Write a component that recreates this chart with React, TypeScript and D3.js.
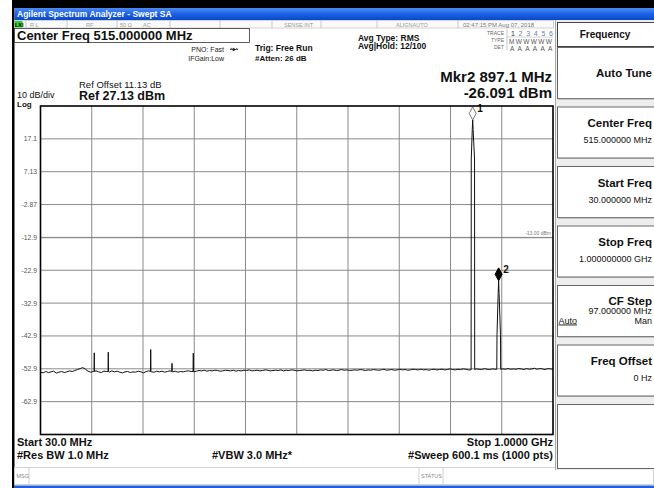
import * as d3 from 'd3';

// ---- data ----
const startFreq = 30; // MHz
const stopFreq = 1000;
const refLevel = 27.13; // dBm
const dbPerDiv = 10;
const yTickLabels = ['17.1', '7.13', '-2.87', '-12.9', '-22.9', '-32.9', '-42.9', '-52.9', '-62.9'];

// noise floor, one value every 5 MHz from 30 MHz to 1 GHz
const noiseStep = 5;
const noiseLevels = [
  -53.9, -54.1, -53.7, -54.0, -53.8, -53.6, -54.2, -53.9, -53.7, -54.0, -53.8, -53.5, -53.7, -53.4, -53.1,
  -52.8, -52.5, -53.0, -53.6, -53.9, -53.7, -53.5, -53.8, -54.0, -53.6, -53.7, -53.9, -53.5, -53.8, -53.6,
  -53.9, -54.1, -53.8, -53.7, -54.0, -53.8, -53.9, -53.6, -53.8, -54.1, -53.7, -53.5, -53.8, -53.9, -53.6,
  -53.8, -53.6, -53.9, -53.7, -53.5, -53.8, -53.6, -53.9, -53.7, -53.8, -53.6, -53.5, -53.7, -53.8, -53.6,
  -53.4, -53.5, -53.3, -53.6, -53.4, -53.5, -53.3, -53.4, -53.6, -53.5, -53.3, -53.4, -53.5, -53.3, -53.6,
  -53.4, -53.5, -53.3, -53.4, -53.2, -53.5, -53.4, -53.3, -53.5, -53.4, -53.2, -53.3, -53.5, -53.4, -53.3,
  -53.4, -53.2, -53.5, -53.3, -53.4, -53.2, -53.3, -53.5, -53.4, -53.3, -53.2, -53.4, -53.3, -53.5, -53.3,
  -53.4, -53.2, -53.3, -53.1, -53.4, -53.3, -53.2, -53.4, -53.3, -53.1, -53.3, -53.2, -53.4, -53.3, -53.2,
  -53.3, -53.1, -53.2, -53.4, -53.2, -53.3, -53.1, -53.2, -53.3, -53.2, -53.0, -53.3, -53.2, -53.1, -53.3,
  -53.2, -53.0, -53.2, -53.1, -53.3, -53.2, -53.0, -53.1, -53.2, -53.0, -53.2, -53.1, -53.3, -53.1, -53.0,
  -53.2, -53.1, -53.0, -53.2, -53.1, -52.9, -53.1, -53.2, -53.0, -53.1, -52.9, -53.0, -53.2, -53.0, -53.1,
  -52.9, -53.0, -53.1, -52.8, -53.0, -53.1, -52.9, -53.0, -52.8, -53.1, -52.9, -53.0, -52.8, -53.0, -52.9,
  -53.0, -52.8, -52.9, -53.1, -52.8, -53.0, -52.9, -52.7, -53.0, -52.8, -52.9, -53.1, -52.8, -52.9, -53.0,
];

// small spurs on the left
const spurFreqs = [131.8, 158.3, 238.6, 278.9, 319.2];
const spurLevels = [-48.0, -47.8, -47.0, -51.2, -48.1];
const spurFloor = -53.7;

// carrier (marker 1) and the emission at marker 2
const carrierFreqs = [845.0, 845.3, 847.2, 848.0, 848.8, 851.5, 851.8];
const carrierLevels = [-53.2, 11.0, 20.0, 22.9, 20.0, 11.0, -53.1];
const emissionFreqs = [893.6, 894.0, 896.2, 897.1, 898.0, 900.6, 901.0];
const emissionLevels = [-53.0, -42.5, -30.0, -26.091, -30.0, -42.5, -53.0];

const markerFreqs = [848.0, 897.1];
const markerLevels = [22.9, -26.091];
const markerNames = ['1', '2'];

const displayLine = -13.0;

const softkeys = [
  { title: 'Auto Tune', value: '' },
  { title: 'Center Freq', value: '515.000000 MHz' },
  { title: 'Start Freq', value: '30.000000 MHz' },
  { title: 'Stop Freq', value: '1.000000000 GHz' },
  { title: 'CF Step', value: '97.000000 MHz' },
  { title: 'Freq Offset', value: '0 Hz' },
];

const statusCells = [
  { x: 30, text: 'R L' },
  { x: 86, text: 'RF' },
  { x: 120, text: '50 Ω' },
  { x: 143, text: 'AC' },
  { x: 284, text: 'SENSE:INT' },
  { x: 396, text: 'ALIGNAUTO' },
];
const statusSeps = [26, 67, 117, 170, 220, 272, 321, 377, 458];

const FONT = '"Liberation Sans", Arial, sans-serif';
const GRID = '#8a8a8a';

// plot area
const plot = { left: 40.5, right: 553, top: 106, bottom: 434.5 };

export default function App() {
  const x = d3.scaleLinear().domain([startFreq, stopFreq]).range([plot.left, plot.right]);
  const y = d3
    .scaleLinear()
    .domain([refLevel - dbPerDiv * 10, refLevel])
    .range([plot.bottom, plot.top]);

  // trace: noise, minus the bits covered by the signals, plus spurs and signals
  const signalSpans = [
    [carrierFreqs[0], carrierFreqs[carrierFreqs.length - 1]],
    [emissionFreqs[0], emissionFreqs[emissionFreqs.length - 1]],
  ];
  const pts: [number, number][] = [];
  noiseLevels.forEach((v, i) => {
    const f = startFreq + i * noiseStep;
    if (signalSpans.some(([a, b]) => f >= a - 0.5 && f <= b + 0.5)) return;
    pts.push([f, v]);
  });
  spurFreqs.forEach((f, i) => {
    pts.push([f - 0.45, spurFloor], [f, spurLevels[i]], [f + 0.45, spurFloor]);
  });
  carrierFreqs.forEach((f, i) => pts.push([f, carrierLevels[i]]));
  emissionFreqs.forEach((f, i) => pts.push([f, emissionLevels[i]]));
  pts.sort((a, b) => a[0] - b[0]);

  const line = d3
    .line<[number, number]>()
    .x((d) => x(d[0]))
    .y((d) => y(d[1]));

  const xGrid = d3.range(1, 10).map((i) => startFreq + ((stopFreq - startFreq) / 10) * i);
  const yGrid = yTickLabels.map((_, i) => refLevel - dbPerDiv * (i + 1));

  const keyTop = 47;
  const keyStep = 59.5;
  const keyH = 51;

  return (
    <div style={{ position: 'fixed', left: 0, top: 0 }}>
      <svg width={654} height={488} style={{ display: 'block', fontFamily: FONT }}>
        <defs>
          <linearGradient id="titleBar" x1="0" y1="0" x2="0" y2="1">
            <stop offset="0" stopColor="#4d8cf5" />
            <stop offset="0.5" stopColor="#1c62e6" />
            <stop offset="1" stopColor="#0b47c8" />
          </linearGradient>
        </defs>
        <rect x={0} y={0} width={654} height={488} fill="#fff" />
        {/* outer frame */}
        <rect x={12} y={0} width={642} height={8} fill="#000" />
        <rect x={12} y={0} width={2.5} height={488} fill="#000" />
        <rect x={14.5} y={8} width={639.5} height={12} fill="url(#titleBar)" />
        <text x={17} y={17} fill="#fff" fontSize={8.5} fontWeight="bold">
          Agilent Spectrum Analyzer - Swept SA
        </text>

        {/* status row */}
        <rect x={14.5} y={20.5} width={539} height={7.5} fill="#fafafa" stroke="#c8c8c8" strokeWidth={0.8} />
        {statusSeps.map((sx) => (
          <line key={sx} x1={sx} x2={sx} y1={20.5} y2={28} stroke="#bdbdbd" strokeWidth={0.8} />
        ))}
        <rect x={14.5} y={21} width={8} height={6.5} fill="#33cc33" />
        <text x={15} y={26.5} fontSize={5.5} fontWeight="bold" fill="#000">
          LXI
        </text>
        {statusCells.map((c) => (
          <text key={c.text} x={c.x} y={26.5} fontSize={5.5} fill="#9a9a9a">
            {c.text}
          </text>
        ))}
        <text x={463} y={26.5} fontSize={6} fill="#7a7a7a">
          02:47:15 PM Aug 07, 2018
        </text>

        {/* center freq box */}
        <rect x={14.5} y={28.5} width={235} height={14} fill="#fff" stroke="#333" strokeWidth={0.8} />
        <text x={17} y={39.5} fontSize={13} fontWeight="bold" fill="#111">
          Center Freq 515.000000 MHz
        </text>

        <text x={224} y={52} fontSize={7} fill="#222" textAnchor="end">
          PNO: Fast
        </text>
        <path d="M230 49.5 H238 M230 49.5 l2 -1.5 M238 49.5 l-2 -1.5 M233 48 v3 l2.5 -1.5 z" stroke="#222" strokeWidth={0.7} fill="#222" />
        <text x={224} y={60.5} fontSize={7} fill="#222" textAnchor="end">
          IFGain:Low
        </text>
        <text x={255} y={50.5} fontSize={8.5} fontWeight="bold" fill="#111">
          Trig: Free Run
        </text>
        <text x={255} y={60.5} fontSize={8} fontWeight="bold" fill="#111">
          #Atten: 26 dB
        </text>
        <text x={358} y={40.5} fontSize={8.5} fontWeight="bold" fill="#111">
          Avg Type: RMS
        </text>
        <text x={358} y={49} fontSize={8.5} fontWeight="bold" fill="#111">
          Avg|Hold: 12/100
        </text>

        {/* trace table */}
        <text x={504} y={35} fontSize={5} fill="#666" textAnchor="end">
          TRACE
        </text>
        <text x={504} y={42} fontSize={5} fill="#666" textAnchor="end">
          TYPE
        </text>
        <text x={504} y={49} fontSize={5} fill="#666" textAnchor="end">
          DET
        </text>
        <line x1={507} x2={507} y1={29} y2={50} stroke="#bbb" strokeWidth={0.8} />
        <line x1={507} x2={553} y1={37} y2={37} stroke="#bbb" strokeWidth={0.6} />
        {['1', '2', '3', '4', '5', '6'].map((d, i) => (
          <text key={'t' + d} x={511 + i * 7.6} y={36} fontSize={7} fill={i === 0 ? '#333' : '#6b7fa8'}>
            {d}
          </text>
        ))}
        <text x={509} y={43.5} fontSize={6.5} fill="#555" textLength={43}>
          MWWWWW
        </text>
        {['A', 'A', 'A', 'A', 'A', 'A'].map((d, i) => (
          <text key={'a' + i} x={510 + i * 7.6} y={50.5} fontSize={6.5} fill="#555">
            {d}
          </text>
        ))}

        {/* marker readout */}
        <text x={552} y={82} fontSize={15} fontWeight="bold" fill="#111" textAnchor="end">
          Mkr2 897.1 MHz
        </text>
        <text x={552} y={97.5} fontSize={15} fontWeight="bold" fill="#111" textAnchor="end">
          -26.091 dBm
        </text>

        <text x={79} y={87.5} fontSize={9.5} fill="#111">
          Ref Offset 11.13 dB
        </text>
        <text x={79} y={100} fontSize={12.5} fontWeight="bold" fill="#111">
          Ref 27.13 dBm
        </text>
        <text x={17} y={97.5} fontSize={9} fill="#111">
          10 dB/div
        </text>
        <text x={17} y={107} fontSize={8} fontWeight="bold" fill="#111">
          Log
        </text>

        {/* graticule */}
        <rect x={plot.left} y={plot.top} width={plot.right - plot.left} height={plot.bottom - plot.top} fill="#fff" />
        {xGrid.map((f) => (
          <line key={'gx' + f} x1={x(f)} x2={x(f)} y1={plot.top} y2={plot.bottom} stroke={GRID} strokeWidth={1} />
        ))}
        {yGrid.map((v, i) => (
          <g key={'gy' + i}>
            <line x1={plot.left} x2={plot.right} y1={y(v)} y2={y(v)} stroke={GRID} strokeWidth={1} />
            <text x={37} y={y(v) + 2.5} fontSize={6.8} fill="#555" textAnchor="end">
              {yTickLabels[i]}
            </text>
          </g>
        ))}
        <line x1={plot.left} x2={plot.right} y1={y(displayLine)} y2={y(displayLine)} stroke="#777" strokeWidth={0.6} />
        <text x={551} y={y(displayLine) - 3} fontSize={5} fill="#777" textAnchor="end">
          -13.00 dBm
        </text>

        {/* trace */}
        <path d={line(pts) || ''} fill="none" stroke="#111" strokeWidth={1} />

        {/* markers */}
        {markerFreqs.map((f, i) => {
          const mx = x(f);
          const my = y(markerLevels[i]);
          const filled = i === 1;
          return (
            <g key={'m' + i}>
              <path
                d={`M${mx} ${my} L${mx - 3.5} ${my - 6.5} L${mx} ${my - 13} L${mx + 3.5} ${my - 6.5} Z`}
                fill={filled ? '#000' : '#fff'}
                stroke={filled ? '#000' : '#777'}
                strokeWidth={1}
              />
              <text x={mx + 4.5} y={my - 8} fontSize={10} fontWeight="bold" fill="#111">
                {markerNames[i]}
              </text>
            </g>
          );
        })}

        <rect
          x={plot.left}
          y={plot.top}
          width={plot.right - plot.left}
          height={plot.bottom - plot.top}
          fill="none"
          stroke="#000"
          strokeWidth={1.6}
        />

        {/* bottom annotations */}
        <text x={17} y={445.5} fontSize={11} fontWeight="bold" fill="#111">
          Start 30.0 MHz
        </text>
        <text x={553} y={445.5} fontSize={11} fontWeight="bold" fill="#111" textAnchor="end">
          Stop 1.0000 GHz
        </text>
        <text x={17} y={459} fontSize={11} fontWeight="bold" fill="#111">
          #Res BW 1.0 MHz
        </text>
        <text x={212} y={459} fontSize={11} fontWeight="bold" fill="#111">
          #VBW 3.0 MHz*
        </text>
        <text x={553} y={459} fontSize={11} fontWeight="bold" fill="#111" textAnchor="end">
          #Sweep  600.1 ms (1000 pts)
        </text>

        {/* message bar */}
        <rect x={14.5} y={467.5} width={639} height={17} fill="#fff" stroke="#c8c8c8" strokeWidth={0.8} />
        <line x1={29} x2={29} y1={467.5} y2={484.5} stroke="#c8c8c8" strokeWidth={0.8} />
        <line x1={419} x2={419} y1={467.5} y2={484.5} stroke="#c8c8c8" strokeWidth={0.8} />
        <line x1={443} x2={443} y1={467.5} y2={484.5} stroke="#c8c8c8" strokeWidth={0.8} />
        <text x={16.5} y={478} fontSize={5.5} fill="#888">
          MSG
        </text>
        <text x={421} y={478} fontSize={5.5} fill="#888">
          STATUS
        </text>
        <rect x={14.5} y={485.5} width={639.5} height={2.5} fill="#1c5fe0" />

        {/* softkey panel */}
        <rect x={555} y={20} width={99} height={450} fill="#eeeeee" />
        <line x1={555.5} x2={555.5} y1={20} y2={470} stroke="#aaa" strokeWidth={1} />
        <rect x={557.5} y={22.5} width={97} height={24} fill="#fff" stroke="#444" strokeWidth={1} />
        <text x={605} y={38} fontSize={10} fontWeight="bold" fill="#111" textAnchor="middle">
          Frequency
        </text>
        {softkeys.map((k, i) => {
          const top = keyTop + i * keyStep;
          return (
            <g key={k.title}>
              <rect x={557.5} y={top + 0.5} width={97} height={keyH} fill="#fff" stroke="#666" strokeWidth={1} />
              <line x1={558} x2={654} y1={top + keyH + 1} y2={top + keyH + 1} stroke="#999" strokeWidth={1} />
              {k.value === '' ? (
                <text x={652} y={top + 30} fontSize={11.5} fontWeight="bold" fill="#111" textAnchor="end">
                  {k.title}
                </text>
              ) : k.title === 'CF Step' ? (
                <g>
                  <text x={652} y={top + 19.5} fontSize={11.5} fontWeight="bold" fill="#111" textAnchor="end">
                    {k.title}
                  </text>
                  <text x={652} y={top + 29} fontSize={9} fill="#111" textAnchor="end">
                    {k.value}
                  </text>
                  <text x={558.5} y={top + 38.5} fontSize={9} fill="#111" textDecoration="underline">
                    Auto
                  </text>
                  <text x={652} y={top + 38.5} fontSize={9} fill="#111" textAnchor="end">
                    Man
                  </text>
                </g>
              ) : (
                <g>
                  <text x={652} y={top + 20.5} fontSize={11.5} fontWeight="bold" fill="#111" textAnchor="end">
                    {k.title}
                  </text>
                  <text x={652} y={top + 36.5} fontSize={9} fill="#111" textAnchor="end">
                    {k.value}
                  </text>
                </g>
              )}
            </g>
          );
        })}
        <rect x={557.5} y={keyTop + 6 * keyStep + 0.5} width={97} height={64} fill="#fff" stroke="#666" strokeWidth={1} />
      </svg>
    </div>
  );
}
